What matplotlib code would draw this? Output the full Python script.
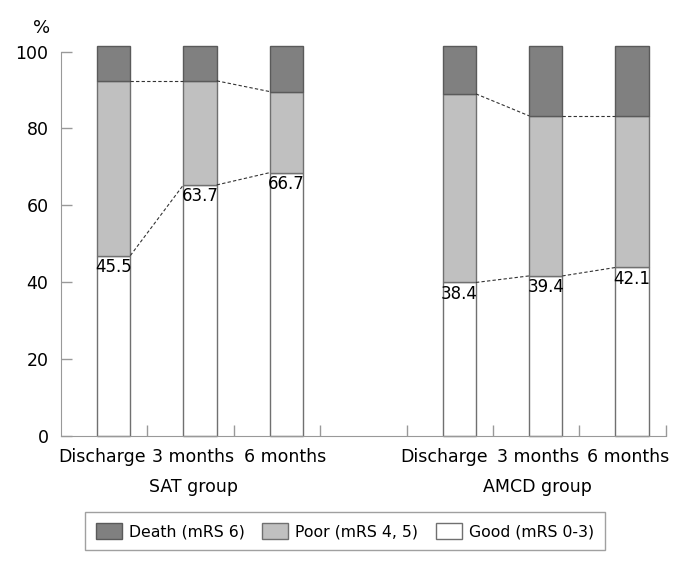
import matplotlib.pyplot as plt
from matplotlib.patches import Patch

plt.rcParams['font.family'] = ['DejaVu Sans']

times = ['Discharge', '3 months', '6 months']
groups = ['SAT group', 'AMCD group']
good_labels = ['45.5', '63.7', '66.7', '38.4', '39.4', '42.1']
# segment heights as drawn in the figure (%)
good = [46.9, 65.3, 68.5, 39.9, 41.6, 43.8]
poor = [45.5, 27.1, 21.1, 49.1, 41.7, 39.5]
death = [9.1, 9.1, 11.9, 12.5, 18.2, 18.2]

c_death = '#808080'
c_poor = '#c0c0c0'
c_good = '#ffffff'
edge = '#707070'

fig = plt.figure(figsize=(7, 5.69), dpi=100)
ax = fig.add_axes([0.0871, 0.2343, 0.864, 0.6884])

slots = [0, 1, 2, 4, 5, 6]
w = 0.386
xs = [s + 0.61 for s in slots]
poor_bottom = good
death_bottom = [g + p for g, p in zip(good, poor)]

ax.bar(xs, good, w, color=c_good, edgecolor=edge, linewidth=1, clip_on=False, zorder=2)
ax.bar(xs, poor, w, bottom=poor_bottom, color=c_poor, edgecolor=edge, linewidth=1, clip_on=False, zorder=2)
ax.bar(xs, death, w, bottom=death_bottom, color=c_death, edgecolor='#5a5a5a', linewidth=1, clip_on=False, zorder=2)

# dashed connectors between neighbouring bars in a group
for g in range(2):
    for k in range(2):
        i = g * 3 + k
        j = i + 1
        for lev in (good, death_bottom):
            ax.plot([xs[i] + w / 2, xs[j] - w / 2], [lev[i], lev[j]],
                    ls=(0, (3, 2)), color='#333333', lw=0.8, zorder=3)

for i in range(6):
    ax.text(xs[i], good[i] - 0.6, good_labels[i], ha='center', va='top',
            fontsize=12, zorder=4)

ax.set_xlim(0, 7)
ax.set_ylim(0, 102)
ax.set_yticks([0, 20, 40, 60, 80, 100])
ax.set_xticks([1, 2, 3, 4, 5, 6, 7])
ax.set_xticklabels([])
for s in ['top', 'right']:
    ax.spines[s].set_visible(False)
ax.spines['left'].set_bounds(0, 100)
ax.spines['left'].set_color('#999999')
ax.spines['bottom'].set_color('#999999')
ax.tick_params(axis='both', direction='in', length=8, color='#999999', width=1)
ax.tick_params(axis='y', labelsize=12.5, pad=9)

# category and group labels under the axis
lab_off = [-0.13, -0.08, -0.01, -0.18, -0.09, -0.04]
for i in range(6):
    ax.text(xs[i] + lab_off[i], -5.5, times[i % 3], ha='center', va='center',
            fontsize=12.5, clip_on=False)
ax.text(1.53, -13.4, groups[0], ha='center', va='center', fontsize=12.5)
ax.text(5.52, -13.4, groups[1], ha='center', va='center', fontsize=12.5)

ax.text(-0.22, 106.2, '%', ha='center', va='center', fontsize=13)

handles = [Patch(facecolor=c_death, edgecolor='#5a5a5a', label='Death (mRS 6)'),
           Patch(facecolor=c_poor, edgecolor=edge, label='Poor (mRS 4, 5)'),
           Patch(facecolor=c_good, edgecolor=edge, label='Good (mRS 0-3)')]
leg = fig.legend(handles=handles, loc='center', bbox_to_anchor=(345 / 700, 1 - 531 / 569),
                 ncol=3, fancybox=False, fontsize=11.3, handlelength=1.65, handleheight=1.2,
                 columnspacing=1.1, handletextpad=0.45, borderpad=0.7)
leg.get_frame().set_edgecolor('#888888')
leg.get_frame().set_linewidth(1)

fig.savefig('out.png', dpi=100)
